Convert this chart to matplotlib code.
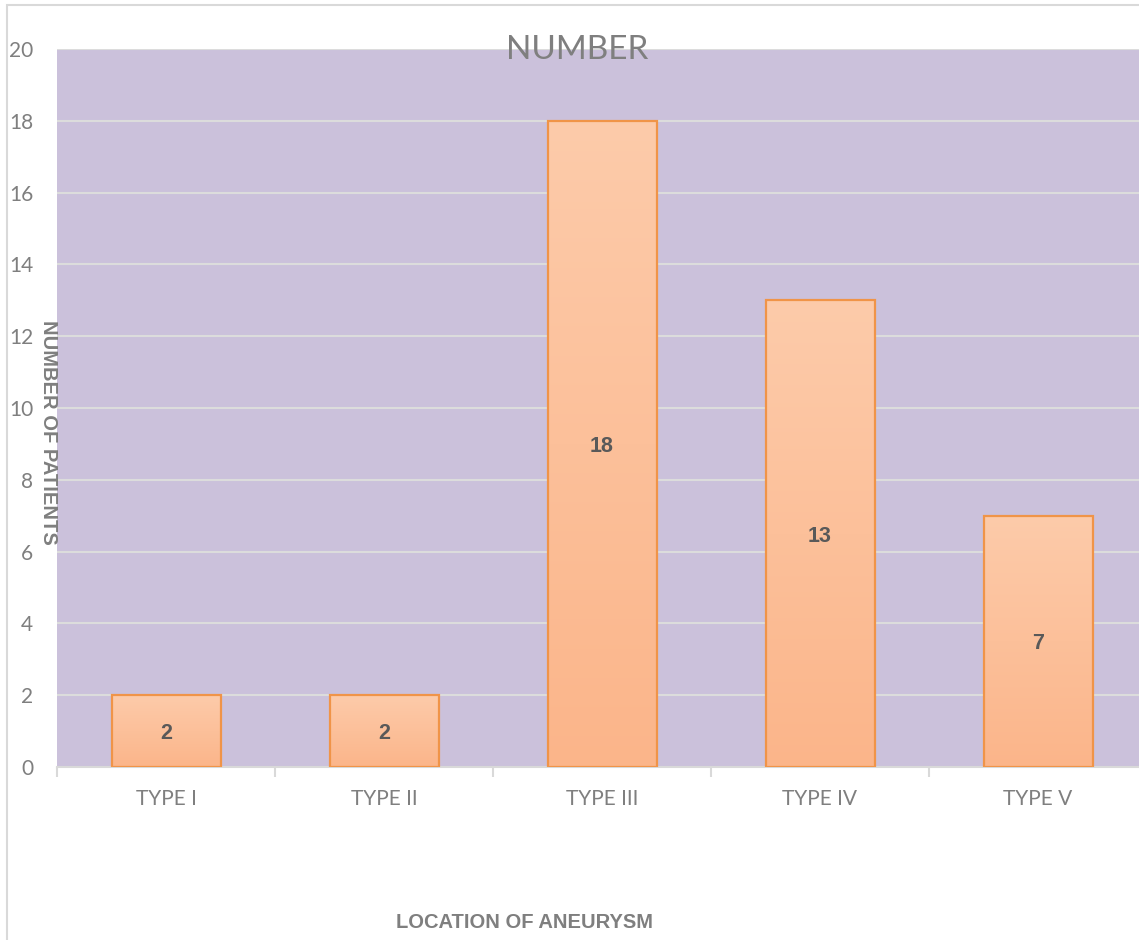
import numpy as np
import matplotlib
matplotlib.use("Agg")
import matplotlib.pyplot as plt
from matplotlib.colors import LinearSegmentedColormap
from matplotlib.patches import Rectangle

categories = ["TYPE I", "TYPE II", "TYPE III", "TYPE IV", "TYPE V"]
patients = [2, 2, 18, 13, 7]
y_ticks = [0, 2, 4, 6, 8, 10, 12, 14, 16, 18, 20]

plt.rcParams["font.family"] = ["Lato", "DejaVu Sans"]
BOLD_FONT = ["Liberation Sans", "DejaVu Sans"]

W, H = 1139, 940
fig = plt.figure(figsize=(W / 100, H / 100), dpi=100)

# chart-area frame
fig.add_artist(Rectangle((7 / W, -0.2), 1.2, 1.2 - 5 / H, transform=fig.transFigure,
                         facecolor="none", edgecolor="#D9D9D9", linewidth=1.5))

ax = fig.add_axes([57 / W, 1 - 767 / H, 1090 / W, (767 - 49) / H])
ax.set_facecolor("#CBC1DB")

x = np.arange(len(categories))
width = 0.5
grad_cmap = LinearSegmentedColormap.from_list("peach", ["#FBB58A", "#FDCBAA"])
grad = np.linspace(0, 1, 256).reshape(-1, 1)

bars = ax.bar(x, patients, width=width, color="none", edgecolor="#F09448",
              linewidth=1.6, zorder=4)
for b, v in zip(bars, patients):
    x0 = b.get_x()
    im = ax.imshow(grad, cmap=grad_cmap, origin="lower", aspect="auto",
                   extent=[x0, x0 + width, 0, v], zorder=3, interpolation="bilinear")
    im.set_clip_path(b)
    ax.text(b.get_x() + width / 2, v / 2, str(v), ha="center", va="center_baseline",
            fontsize=15.5, fontweight="bold", family=BOLD_FONT, color="#595959", zorder=5)

ax.set_xlim(-0.5, len(categories) - 0.5)
ax.set_ylim(0, 20)
ax.set_yticks(y_ticks)
ax.yaxis.grid(True, color="#DCDCDC", linewidth=1.5)
ax.set_axisbelow(True)

for side in ["top", "right", "left"]:
    ax.spines[side].set_visible(False)
ax.spines["bottom"].set_color("#D9D9D9")
ax.spines["bottom"].set_linewidth(1.5)

ax.set_xticks(x)
ax.set_xticklabels(categories)
ax.set_xticks(np.arange(len(categories) + 1) - 0.5, minor=True)
ax.tick_params(axis="x", which="major", length=0, pad=16, labelsize=15, labelcolor="#7F7F7F")
ax.tick_params(axis="x", which="minor", length=7, width=1.5, color="#D9D9D9")
ax.tick_params(axis="y", length=0, pad=17, labelsize=15, labelcolor="#7F7F7F")

fig.text(577 / W, 1 - 50 / H, "NUMBER", ha="center", va="center",
         fontsize=24, color="#7F7F7F")
fig.text(48 / W, 1 - 432 / H, "NUMBER OF PATIENTS", ha="center", va="center",
         rotation=-90, fontsize=14.5, fontweight="bold", family=BOLD_FONT, color="#7F7F7F")
fig.text(525 / W, 1 - 923 / H, "LOCATION OF ANEURYSM", ha="center", va="center",
         fontsize=14.5, fontweight="bold", family=BOLD_FONT, color="#7F7F7F")

fig.savefig("out.png", dpi=100)
